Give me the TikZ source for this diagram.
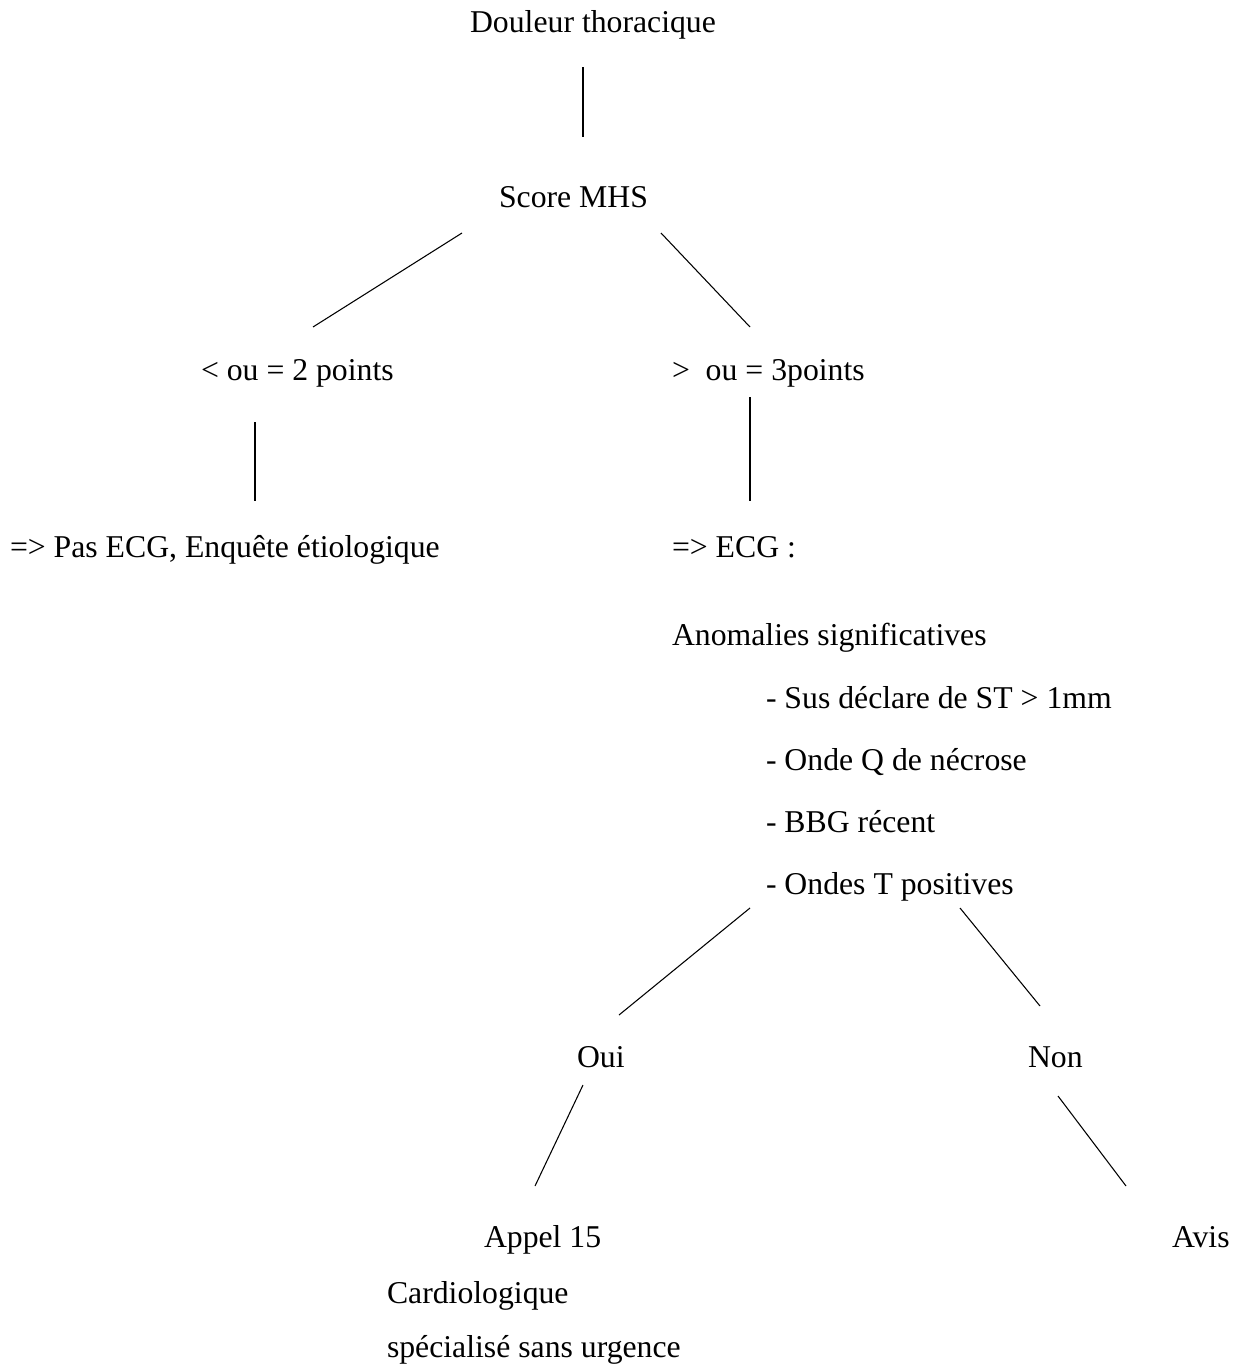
\documentclass[tikz,border=0pt]{standalone}
\usepackage{fontspec}
\setmainfont{Liberation Serif}
\begin{document}
\begin{tikzpicture}[x=0.75pt,y=-0.75pt,
  txt/.style={anchor=base west,inner sep=0pt,outer sep=0pt,font=\fontsize{23.8}{28}\selectfont},
  ctxt/.style={anchor=base,inner sep=0pt,outer sep=0pt,font=\fontsize{23.8}{28}\selectfont},
  conn/.style={line width=0.8pt,black}]
\useasboundingbox (0,0) rectangle (1232,1367);
% texts
\node[ctxt] (douleur) at (593,32) {Douleur thoracique};
\node[ctxt] (score) at (573.5,207) {Score MHS};
\node[txt] (inf) at (201,380) {< ou = 2 points};
\node[txt] (sup) at (672,380) {>\ \ ou = 3points};
\node[txt] (pas) at (10,557) {=> Pas ECG, Enquête étiologique};
\node[txt] (ecg) at (672,557) {=> ECG :};
\node[txt] (anom) at (672,645) {Anomalies significatives};
\node[txt] (a1) at (766,708) {- Sus déclare de ST > 1mm};
\node[txt] (a2) at (766,770) {- Onde Q de nécrose};
\node[txt] (a3) at (766,832) {- BBG récent};
\node[txt] (a4) at (766,894) {- Ondes T positives};
\node[txt] (oui) at (577,1067) {Oui};
\node[txt] (non) at (1028,1067) {Non};
\node[txt] (appel) at (484,1247) {Appel 15};
\node[txt] (avis) at (1172,1247) {Avis};
\node[txt] (cardio) at (387,1303) {Cardiologique};
\node[txt] (spec) at (387,1357) {spécialisé sans urgence};
% connector end points
\coordinate (c1a) at (583,67);   \coordinate (c1b) at (583,137);
\coordinate (c2a) at (462,233);  \coordinate (c2b) at (313,327);
\coordinate (c3a) at (661,233);  \coordinate (c3b) at (750,327);
\coordinate (c4a) at (255,422);  \coordinate (c4b) at (255,501);
\coordinate (c5a) at (750,397);  \coordinate (c5b) at (750,501);
\coordinate (c6a) at (750,908);  \coordinate (c6b) at (619,1015);
\coordinate (c7a) at (960,908);  \coordinate (c7b) at (1040,1006);
\coordinate (c8a) at (583,1085); \coordinate (c8b) at (535,1186);
\coordinate (c9a) at (1058,1096);\coordinate (c9b) at (1126,1186);
\draw[conn] (c1a) -- (c1b);
\draw[conn] (c2a) -- (c2b);
\draw[conn] (c3a) -- (c3b);
\draw[conn] (c4a) -- (c4b);
\draw[conn] (c5a) -- (c5b);
\draw[conn] (c6a) -- (c6b);
\draw[conn] (c7a) -- (c7b);
\draw[conn] (c8a) -- (c8b);
\draw[conn] (c9a) -- (c9b);
\end{tikzpicture}
\end{document}
